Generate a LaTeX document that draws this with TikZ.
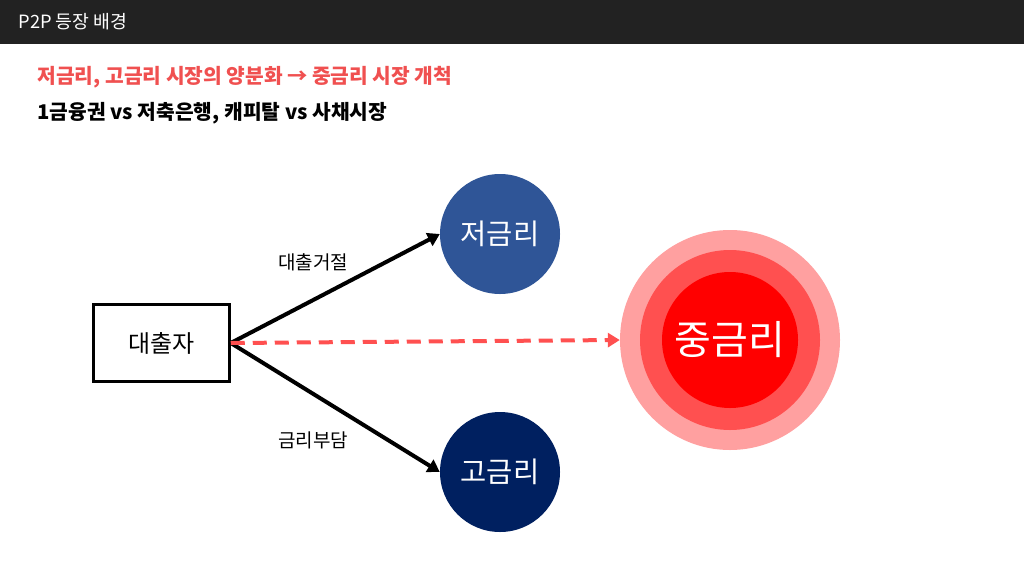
\documentclass[tikz,border=0pt]{standalone}
\usepackage{fontspec}
\newfontfamily\kr{Noto Sans CJK KR}
\usetikzlibrary{arrows.meta}
\definecolor{hdr}{HTML}{222222}
\definecolor{redtxt}{HTML}{F05050}
\definecolor{lowc}{HTML}{2F5597}
\definecolor{highc}{HTML}{002060}
\definecolor{c1}{HTML}{FFA0A0}
\definecolor{c2}{HTML}{FF5050}
\definecolor{c3}{HTML}{FF0000}
\tikzset{
 circ/.style={circle,minimum size=120pt,inner sep=0pt,text=white,font=\kr\fontsize{28.5}{32}\selectfont},
 lbl/.style={font=\kr\fontsize{19}{22}\selectfont},
 arr/.style={line width=4pt,-{Triangle[length=12pt,width=14pt]}}
}
\begin{document}
\begin{tikzpicture}[x=1pt,y=-1pt]
\useasboundingbox (0,0) rectangle (1024,576);
\fill[white] (0,0) rectangle (1024,576);
\fill[hdr] (0,0) rectangle (1024,44);
\node[anchor=west,text=white,font=\kr\fontsize{18.3}{22}\selectfont] (title) at (15,22) {P2P 등장 배경};
\node[anchor=west,text=redtxt,font=\kr\bfseries\fontsize{20.3}{24}\selectfont] (l1) at (34,77) {저금리, 고금리 시장의 양분화 → 중금리 시장 개척};
\node[anchor=west,font=\kr\bfseries\fontsize{20.3}{24}\selectfont] (l2) at (34,113) {1금융권 vs 저축은행, 캐피탈 vs 사채시장};
\node[draw,line width=2.5pt,minimum width=136pt,minimum height=77pt,font=\kr\fontsize{24}{28}\selectfont] (b) at (161.5,343) {대출자};
\node[circ,fill=lowc] (low) at (500,234) {저금리};
\node[circ,fill=highc] (high) at (500,472) {고금리};
\node[circle,fill=c1,minimum size=220pt] (mo) at (730,340) {};
\node[circle,fill=c2,minimum size=180pt] at (730,340) {};
\node[circle,fill=c3,minimum size=136pt,text=white,font=\kr\fontsize{40}{44}\selectfont] (mid) at (730,340) {중금리};
\draw[arr] (b.east) -- (low.west);
\draw[arr] (b.east) -- (high.west);
\draw[arr,c2,dash pattern=on 14pt off 8pt] (b.east) -- (mo.west);
\node[lbl] (t1) at (313,262) {대출거절};
\node[lbl] (t2) at (313,440) {금리부담};
\end{tikzpicture}
\end{document}
